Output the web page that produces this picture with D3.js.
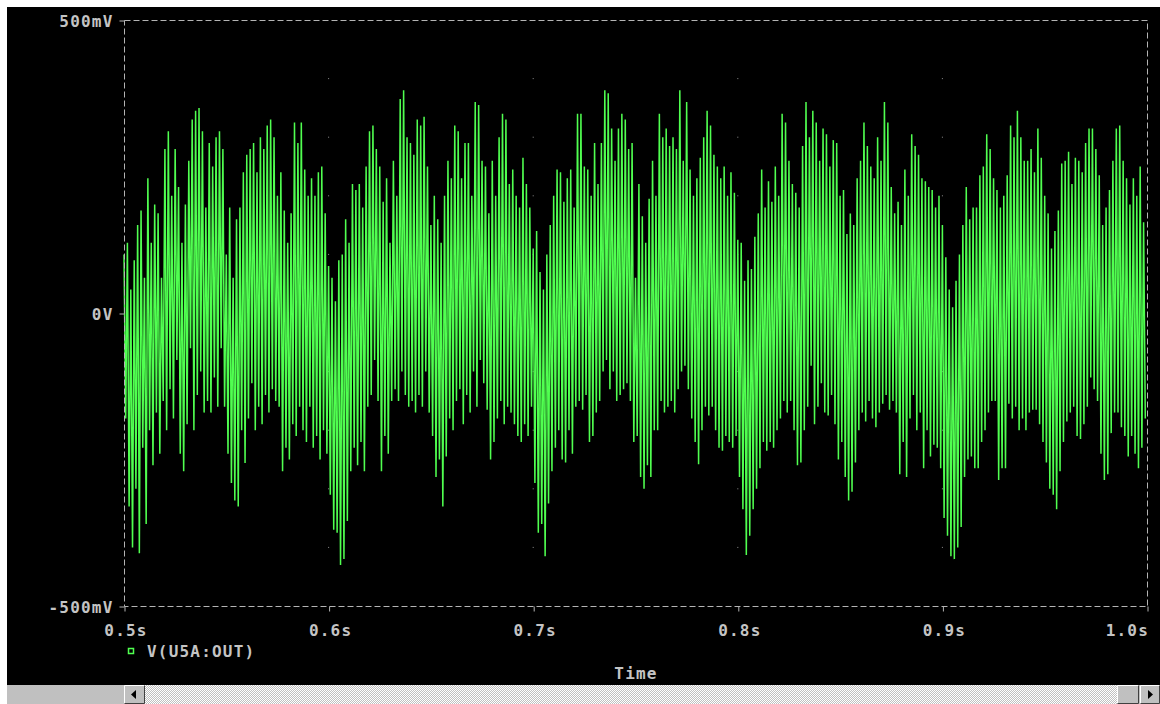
<!DOCTYPE html>
<html lang="en">
<head>
<meta charset="UTF-8">
<title>V(U5A:OUT)</title>
<style>
    body { margin: 0; background: #fff; }
    svg { display: block; }
    .lbl { font-family: "DejaVu Sans Mono", monospace; font-weight: bold; font-size: 16px; letter-spacing: 1.2px; fill: #c4c4c4; }
    .frame { fill: none; stroke: #b4b4b4; stroke-width: 1; stroke-dasharray: 6,3; }
    .axis path { display: none; }
    .axis line { stroke: #b4b4b4; }
    .trace { fill: none; stroke: #50ff50; stroke-width: 1.5; }
</style>
</head>
<body>
<svg width="1160" height="704"></svg>
<script src="https://d3js.org/d3.v7.min.js"></script>
<script>
// V(U5A:OUT) in mV, four windows of 0.125 s each, alternating crest/trough samples
const win1 = [100,-180, 120,-330, 40,-400, 90,-300, 150,-410, 175,-230, 60,-360, 230,-200, 120,-260, 185,-170,
    170,-240, 60,-150, 280,-200, 310,-130, 200,-180, 280,-80, 215,-240, 120,-270, 185,-190, 260,-60,
    330,-200, 345,-140, 350,-100, 310,-170, 180,-150, 290,-170, 250,-110, 300,-160, 310,-60, 280,-160,
    100,-240, 180,-290, 60,-320, 160,-330, 180,-200, 240,-256, 270,-180, 280,-120, 290,-200, 240,-160,
    300,-190, 280,-140, 320,-170, 330,-130, 300,-150, 200,-160, 240,-270, 175,-230, 120,-250, 170,-190,
    325,-210, 290,-160, 325,-200, 245,-220, 200,-160, 230,-230, 200,-210, 240,-250, 250,-200, 170,-240,
    80,-310, 60,-370, 20,-375, 90,-430, 100,-420, 160,-355, 120,-270, 220,-230, 210,-260, 220,-220,
    180,-270, 250,-160, 310,-140, 320,-80, 280,-150];
const win2 = [250,-270, 190,-210, 230,-240, 120,-150, 260,-130, 200,-150, 365,-100, 380,-140, 300,-160, 290,-150,
    270,-170, 330,-140, 320,-160, 335,-100, 250,-170, 150,-210, 200,-280, 160,-250, 120,-330, 200,-245,
    260,-180, 230,-200, 320,-150, 310,-130, 230,-190, 290,-140, 290,-170, 200,-100, 360,-160, 355,-80,
    260,-120, 250,-165, 170,-250, 260,-220, 200,-180, 300,-150, 340,-190, 330,-160, 220,-170, 245,-190,
    200,-210, 180,-220, 265,-190, 220,-210, 180,-160, 110,-290, 140,-375, 70,-360, 40,-415, 100,-325,
    150,-270, 200,-230, 245,-200, 240,-250, 190,-255, 230,-200, 245,-240, 180,-160, 340,-150, 340,-165,
    250,-140, 245,-220, 200,-210, 290,-170, 220,-150, 290,-100, 380,-80, 375,-130, 315,-100, 260,-150,
    315,-140, 340,-130, 330,-120, 280,-150, 290,-220];
const win3 = [60,-210, 220,-280, 165,-300, 120,-260, 195,-280, 260,-200, 200,-200, 340,-150, 300,-170, 315,-160,
    285,-150, 300,-170, 280,-130, 380,-100, 260,-90, 360,-130, 245,-180, 200,-220, 230,-258, 265,-200,
    300,-160, 345,-175, 320,-160, 270,-200, 250,-230, 230,-235, 250,-210, 200,-220, 240,-230, 205,-210,
    125,-280, 120,-335, 55,-413, 90,-380, 75,-335, 130,-300, 170,-265, 245,-220, 180,-235, 225,-220,
    190,-230, 250,-200, 200,-180, 340,-150, 325,-170, 260,-150, 220,-200, 205,-260, 180,-255, 285,-200,
    360,-160, 300,-90, 345,-190, 325,-160, 260,-120, 315,-170, 305,-175, 250,-140, 295,-190, 290,-250,
    200,-220, 210,-280, 135,-320, 170,-305, 150,-255, 230,-200, 260,-170, 325,-185, 285,-150, 250,-180,
    230,-195, 300,-170, 260,-155, 360,-140, 325,-165];
const win4 = [215,-150, 170,-170, 190,-275, 150,-220, 245,-280, 200,-180, 305,-140, 285,-200, 270,-170, 230,-265,
    225,-200, 215,-245, 210,-225, 180,-230, 200,-265, 150,-350, 95,-380, 40,-415, 10,-420, 55,-400,
    100,-365, 150,-280, 215,-250, 160,-245, 180,-265, 180,-265, 235,-220, 250,-200, 305,-170, 280,-150,
    230,-150, 210,-285, 180,-265, 200,-265, 235,-155, 320,-180, 300,-160, 345,-200, 300,-180, 260,-200,
    260,-170, 280,-165, 240,-165, 315,-190, 265,-220, 200,-255, 170,-300, 110,-310, 140,-335, 175,-270,
    255,-220, 260,-185, 275,-170, 220,-160, 265,-210, 260,-215, 240,-190, 290,-160, 315,-110, 315,-130,
    280,-150, 235,-240, 150,-285, 180,-275, 210,-205, 260,-170, 315,-170, 320,-195, 260,-210, 230,-245,
    185,-210, 230,-240, 200,-265, 250,-230, 155,-180];
const windows = [win1, win2, win3, win4];
const winStart = [0.5, 0.625, 0.75, 0.875];
const winLength = 0.125;

const timeTicks = [0.5, 0.6, 0.7, 0.8, 0.9, 1.0];
const timeLabels = ["0.5s", "0.6s", "0.7s", "0.8s", "0.9s", "1.0s"];
const voltTicks = [-500, 0, 500];
const voltLabels = ["-500mV", "0V", "500mV"];
const gridVolts = [-400, -300, -200, -100, 100, 200, 300, 400];

const svg = d3.select("svg");
const W = 1160, H = 704;
const plotL = 124, plotR = 1147, plotT = 20, plotB = 606;

// window chrome: white border top/left, black plot area
svg.append("rect").attr("width", W).attr("height", H).attr("fill", "#fff");
svg.append("rect").attr("x", 7).attr("y", 7).attr("width", W - 7).attr("height", 678).attr("fill", "#000");

const x = d3.scaleLinear().domain([0.5, 1.0]).range([plotL, plotR]);
const y = d3.scaleLinear().domain([-500, 500]).range([plotB, plotT]);

// grid dots
const dots = [];
timeTicks.slice(1, -1).forEach(t => gridVolts.forEach(v => dots.push([t, v])));
svg.append("g").selectAll("rect").data(dots).join("rect")
    .attr("x", d => x(d[0]) - 0.5).attr("y", d => y(d[1]) - 0.5)
    .attr("width", 1).attr("height", 1).attr("fill", "#8c8c8c");

// trace
const points = [];
windows.forEach((w, i) => {
    const step = winLength / w.length;
    w.forEach((v, j) => points.push({ t: winStart[i] + j * step, v: v }));
});
const line = d3.line().x(d => x(d.t)).y(d => y(d.v));
svg.append("path").datum(points).attr("class", "trace").attr("d", line);

// dashed frame
svg.append("rect").attr("class", "frame")
    .attr("x", plotL + 0.5).attr("y", plotT + 0.5)
    .attr("width", plotR - plotL).attr("height", plotB - plotT);

// axes
const xAxis = svg.append("g").attr("class", "axis")
    .attr("transform", `translate(0.5,${plotB + 0.5})`)
    .call(d3.axisBottom(x).tickValues(timeTicks).tickSize(5).tickFormat((d, i) => timeLabels[i]));
xAxis.selectAll("text").attr("class", "lbl").attr("fill", null)
    .attr("y", 29).attr("dy", 0)
    .attr("text-anchor", (d, i) => i === timeTicks.length - 1 ? "end" : "middle")
    .attr("x", 1);

const yAxis = svg.append("g").attr("class", "axis")
    .attr("transform", `translate(${plotL + 0.5},0.5)`)
    .call(d3.axisLeft(y).tickValues(voltTicks).tickSize(5).tickPadding(6).tickFormat((d, i) => voltLabels[i]));
yAxis.selectAll("text").attr("class", "lbl").attr("fill", null)
    .attr("dy", "0.36em");
svg.selectAll(".axis").attr("font-size", null).attr("font-family", null);

// legend
svg.append("rect").attr("x", 128.5).attr("y", 648.5).attr("width", 5).attr("height", 5)
    .attr("fill", "none").attr("stroke", "#50ff50").attr("stroke-width", 1.5);
svg.append("text").attr("class", "lbl").attr("x", 147).attr("y", 657).text("V(U5A:OUT)");
svg.append("text").attr("class", "lbl").attr("x", 636).attr("y", 679).attr("text-anchor", "middle").text("Time");

// scrollbar
const defs = svg.append("defs");
const pat = defs.append("pattern").attr("id", "dither").attr("width", 2).attr("height", 2)
    .attr("patternUnits", "userSpaceOnUse");
pat.append("rect").attr("width", 2).attr("height", 2).attr("fill", "#fff");
pat.append("rect").attr("width", 1).attr("height", 1).attr("fill", "#c0c0c0");
pat.append("rect").attr("x", 1).attr("y", 1).attr("width", 1).attr("height", 1).attr("fill", "#c0c0c0");

const sb = svg.append("g").attr("transform", "translate(0,685)");
sb.append("rect").attr("x", 7).attr("width", W - 7).attr("height", 19).attr("fill", "#c0c0c0");
sb.append("rect").attr("x", 145).attr("width", 972).attr("height", 19).attr("fill", "url(#dither)");
function button(x0, w) {
    sb.append("rect").attr("x", x0).attr("width", w).attr("height", 19).attr("fill", "#c0c0c0");
    sb.append("path").attr("d", `M${x0 + 0.5},18.5V0.5H${x0 + w - 0.5}`).attr("stroke", "#fff").attr("fill", "none");
    sb.append("path").attr("d", `M${x0 + w - 0.5},0.5V18.5H${x0 + 0.5}`).attr("stroke", "#404040").attr("fill", "none");
}
button(124, 21);
button(1117, 22);
button(1140, 20);
sb.append("path").attr("d", "M131,9.5L136,5V14Z").attr("fill", "#000");
sb.append("path").attr("d", "M1153,9.5L1148,5V14Z").attr("fill", "#000");
</script>
</body>
</html>
